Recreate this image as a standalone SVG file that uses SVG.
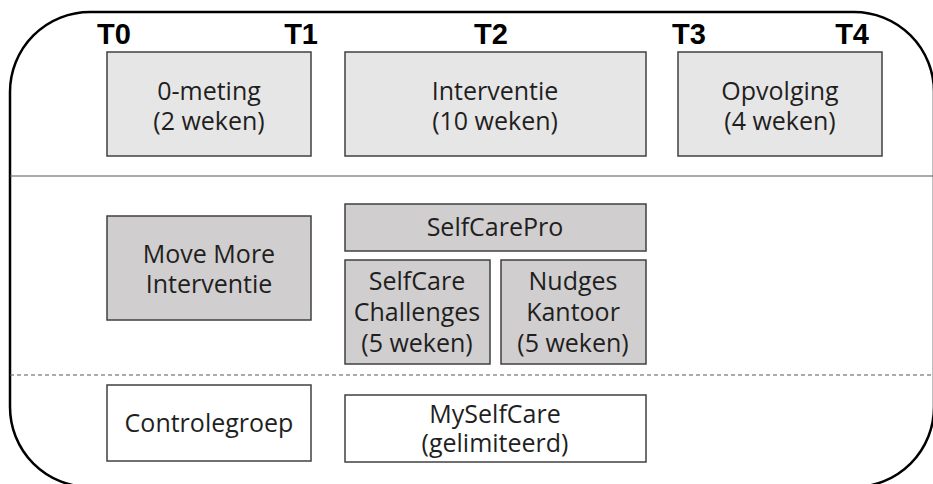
<svg xmlns="http://www.w3.org/2000/svg" width="933" height="484" viewBox="0 0 933 484">
<style>
.t{font-family:"Open Sans","Noto Sans",sans-serif;font-size:25px;fill:#1f1f1f;text-anchor:middle}
.h{font-family:"Liberation Sans",Arial,sans-serif;font-weight:bold;font-size:29px;fill:#000}
.b1{fill:#e7e6e6;stroke:#404040;stroke-width:1.5}
.b2{fill:#d0cece;stroke:#404040;stroke-width:1.5}
.b3{fill:#fff;stroke:#404040;stroke-width:1.5}
</style>
<rect width="933" height="484" fill="#fff"/>
<g id="frame">
<rect x="10" y="12" width="924" height="475" rx="80" ry="80" fill="none" stroke="#000" stroke-width="2.5"/>
<line x1="10" y1="176" x2="933" y2="176" stroke="#595959" stroke-width="1.2"/>
<line x1="10" y1="375" x2="933" y2="375" stroke="#595959" stroke-width="1.2" stroke-dasharray="4,3"/>
</g>
<g id="labels">
<text class="h" x="97" y="44">T0</text>
<text class="h" x="318" y="44" text-anchor="end">T1</text>
<text class="h" x="491" y="44" text-anchor="middle">T2</text>
<text class="h" x="672" y="44">T3</text>
<text class="h" x="869" y="44" text-anchor="end">T4</text>
</g>
<g id="n-0meting"><rect class="b1" x="107" y="52" width="204" height="104"/><text class="t" x="209" y="100">0-meting</text><text class="t" x="209" y="130">(2 weken)</text></g>
<g id="n-interventie"><rect class="b1" x="345" y="52" width="301" height="104"/><text class="t" x="495" y="100">Interventie</text><text class="t" x="495" y="130">(10 weken)</text></g>
<g id="n-opvolging"><rect class="b1" x="678" y="52" width="204" height="104"/><text class="t" x="780" y="100">Opvolging</text><text class="t" x="780" y="130">(4 weken)</text></g>
<g id="n-movemore"><rect class="b2" x="107" y="216" width="204" height="104"/><text class="t" x="209" y="263">Move More</text><text class="t" x="209" y="293">Interventie</text></g>
<g id="n-selfcarepro"><rect class="b2" x="345" y="204" width="301" height="47"/><text class="t" x="495" y="236">SelfCarePro</text></g>
<g id="n-challenges"><rect class="b2" x="345" y="260" width="145" height="104"/><text class="t" x="417" y="290">SelfCare</text><text class="t" x="417" y="321">Challenges</text><text class="t" x="417" y="352">(5 weken)</text></g>
<g id="n-nudges"><rect class="b2" x="501" y="260" width="145" height="104"/><text class="t" x="573" y="290">Nudges</text><text class="t" x="573" y="321">Kantoor</text><text class="t" x="573" y="352">(5 weken)</text></g>
<g id="n-controle"><rect class="b3" x="107" y="385" width="204" height="76"/><text class="t" x="209" y="432">Controlegroep</text></g>
<g id="n-myselfcare"><rect class="b3" x="345" y="395" width="301" height="67"/><text class="t" x="495" y="423">MySelfCare</text><text class="t" x="495" y="452">(gelimiteerd)</text></g>
</svg>
